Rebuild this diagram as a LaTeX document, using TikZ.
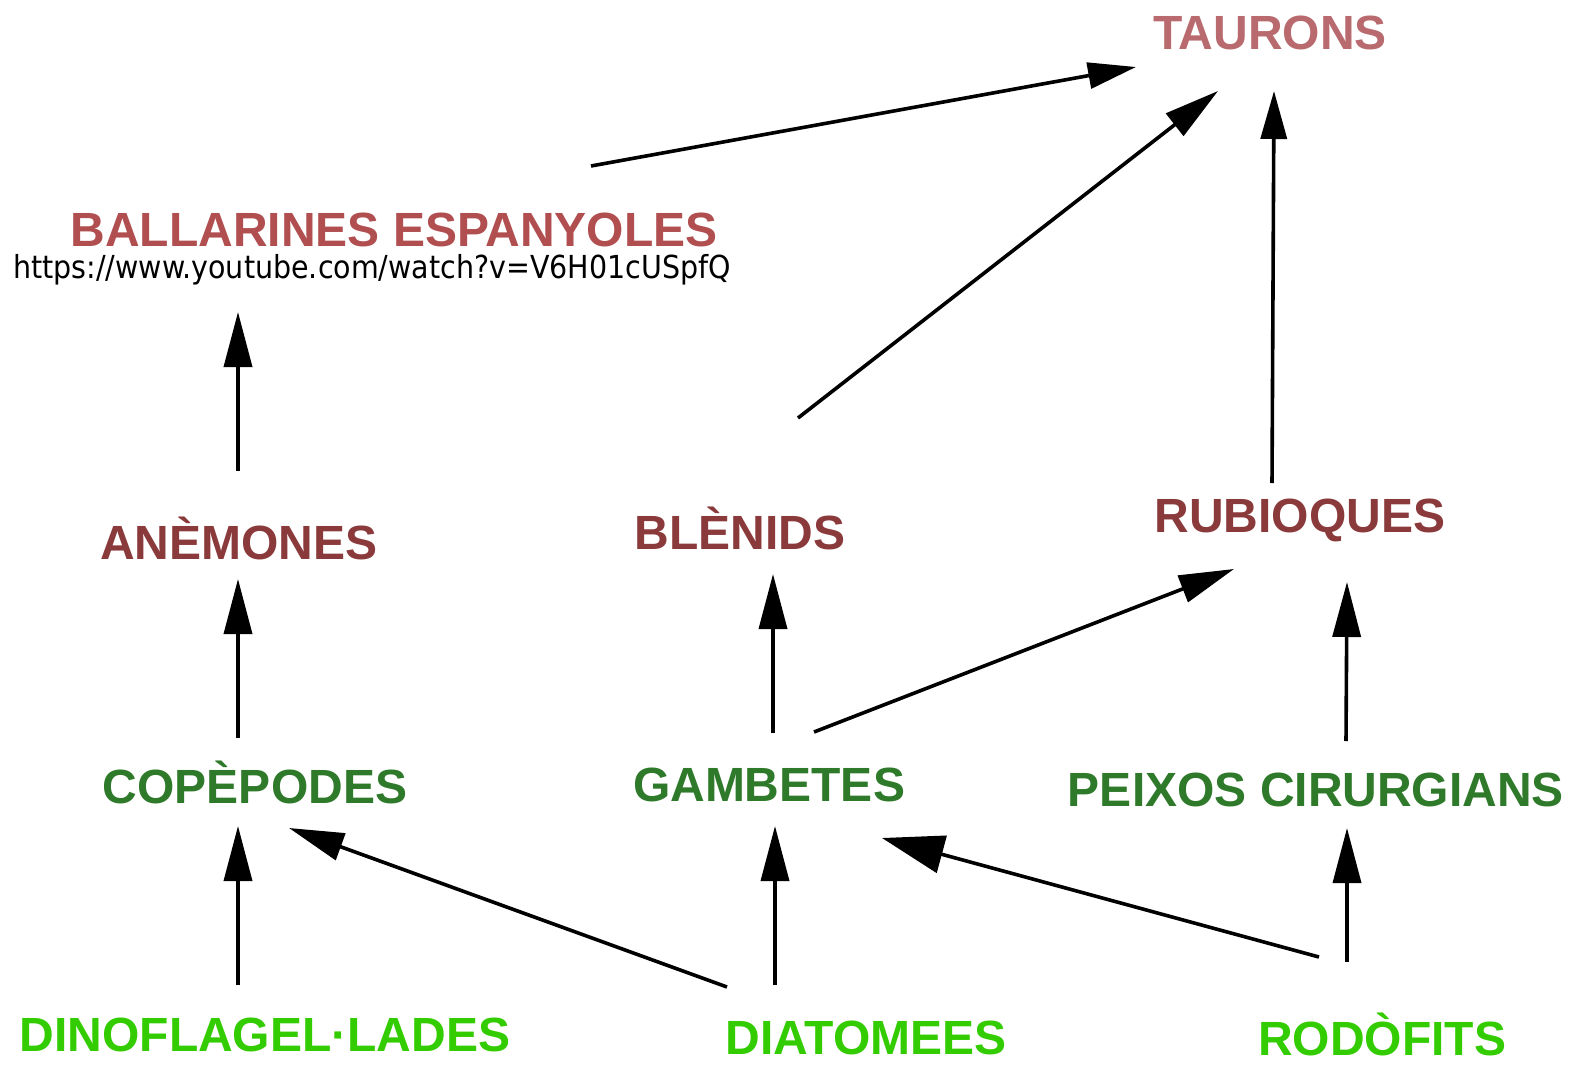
\documentclass[tikz,border=0pt]{standalone}
\usepackage{fontspec}
\setmainfont{Liberation Sans}
\newfontfamily\urlfont{DejaVu Sans Condensed}
\usetikzlibrary{arrows.meta}
\definecolor{rosered}{HTML}{B86A6E}
\definecolor{brickred}{HTML}{B04E50}
\definecolor{darkred}{HTML}{8B3A3C}
\definecolor{darkgreen}{HTML}{2F7A2A}
\definecolor{lightgreen}{HTML}{33CC00}
\tikzset{
  lbl/.style={inner sep=0pt, font=\fontsize{48}{50}\selectfont\bfseries},
  top/.style={lbl, text=darkred},
  plankton/.style={lbl, text=darkgreen},
  producer/.style={lbl, text=lightgreen},
  feeds/.style={line width=3.6pt, -{Triangle[length=55pt,width=28pt]}},
  bighead/.style={-{Triangle[length=62pt,width=38pt]}},
  smallhead/.style={-{Triangle[length=48pt,width=26pt]}},
}
\begin{document}
\begin{tikzpicture}[x=1pt,y=-1pt]
\useasboundingbox[fill=white] (0,0) rectangle (1579,1065);

% species
\node[top, text=rosered]  (taurons) at (1270,33)  {TAURONS};
\node[top, text=brickred] (ball)    at (394,230)  {BALLARINES ESPANYOLES};
\node[inner sep=0pt, font=\urlfont\fontsize{31.7}{33}\selectfont] (url) at (372,270) {https://www.youtube.com/watch?v=V6H01cUSpfQ};
\node[top]      (anem)  at (239,538)  {ANÈMONES};
\node[top]      (blen)  at (740,528)  {BLÈNIDS};
\node[top]      (rubi)  at (1300,520) {RUBIOQUES};
\node[plankton] (cope)  at (255,782)  {COPÈPODES};
\node[plankton] (gamb)  at (769,785)  {GAMBETES};
\node[plankton] (peix)  at (1316,790) {PEIXOS CIRURGIANS};
\node[producer] (dino)  at (265,1035) {DINOFLAGEL·LADES};
\node[producer] (diat)  at (866,1038) {DIATOMEES};
\node[producer] (rodo)  at (1382,1034){RODÒFITS};

% arrow end points
\coordinate (ballOut)  at (591,166);
\coordinate (taurInA)  at (1136,67);
\coordinate (blenOut)  at (798,418);
\coordinate (taurInB)  at (1218,91);
\coordinate (rubiOut)  at (1272,483);
\coordinate (taurInC)  at (1274,91);
\coordinate (anemOut)  at (238,471);
\coordinate (ballIn)   at (238,312);
\coordinate (copeOut)  at (238,738);
\coordinate (anemIn)   at (238,579);
\coordinate (gambOutA) at (773,733);
\coordinate (blenIn)   at (773,574);
\coordinate (gambOutB) at (814,732);
\coordinate (rubiInA)  at (1234,569);
\coordinate (peixOut)  at (1346,741);
\coordinate (rubiInB)  at (1347,582);
\coordinate (dinoOut)  at (238,985);
\coordinate (copeInA)  at (238,826);
\coordinate (diatOutA) at (727,987);
\coordinate (copeInB)  at (289,828);
\coordinate (diatOutB) at (775,985);
\coordinate (gambInA)  at (775,826);
\coordinate (rodoOutA) at (1319,957);
\coordinate (gambInB)  at (882,838);
\coordinate (rodoOutB) at (1347,962);
\coordinate (peixIn)   at (1347,828);

% who eats whom
\draw[feeds, smallhead] (ballOut)  -- (taurInA);
\draw[feeds] (blenOut)  -- (taurInB);
\draw[feeds, smallhead] (rubiOut)  -- (taurInC);
\draw[feeds] (anemOut)  -- (ballIn);
\draw[feeds] (copeOut)  -- (anemIn);
\draw[feeds] (gambOutA) -- (blenIn);
\draw[feeds] (gambOutB) -- (rubiInA);
\draw[feeds] (peixOut)  -- (rubiInB);
\draw[feeds] (dinoOut)  -- (copeInA);
\draw[feeds] (diatOutA) -- (copeInB);
\draw[feeds] (diatOutB) -- (gambInA);
\draw[feeds, bighead] (rodoOutA) -- (gambInB);
\draw[feeds] (rodoOutB) -- (peixIn);
\end{tikzpicture}
\end{document}
